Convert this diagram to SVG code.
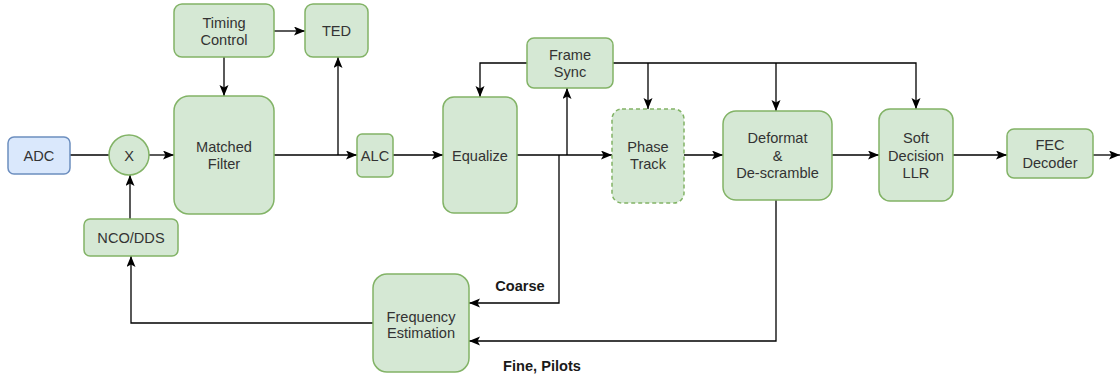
<svg xmlns="http://www.w3.org/2000/svg" width="1120" height="381" viewBox="0 0 1120 381">
<style>
.n{fill:#d5e8d4;stroke:#82b366;stroke-width:1.5}
.b{fill:#dae8fc;stroke:#6c8ebf;stroke-width:1.5}
.d{stroke-dasharray:4 3}
text{font-family:"Liberation Sans",Arial,sans-serif;font-size:14.6px;fill:#333333;text-anchor:middle;dominant-baseline:central}
.lb{font-weight:bold;fill:#1a1a1a}
.c{fill:none;stroke:#000000;stroke-width:1.3}
.a{marker-end:url(#ar)}
</style>
<defs>
<marker id="ar" markerUnits="userSpaceOnUse" markerWidth="12" markerHeight="10" refX="11" refY="4.5" orient="auto">
<path d="M0,0 L11,4.5 L0,9 L2.5,4.5 z" fill="#000000"/>
</marker>
</defs>
<rect width="1120" height="381" fill="#ffffff"/>
<g id="connectors">
<path class="c" d="M70,155 H109"/>
<path class="c a" d="M149,155 H174"/>
<path class="c a" d="M130,219 V175"/>
<path class="c a" d="M224,57 V96"/>
<path class="c a" d="M274,31 H305"/>
<path class="c a" d="M274,155 H357"/>
<path class="c a" d="M338,155 V57"/>
<path class="c a" d="M393,155 H443"/>
<path class="c a" d="M517,155 H612"/>
<path class="c a" d="M567,155 V88"/>
<path class="c a" d="M559,155 V303 H469"/>
<path class="c a" d="M527,63 H480 V97"/>
<path class="c a" d="M613,63 H916 V109"/>
<path class="c a" d="M648,63 V109"/>
<path class="c a" d="M776,63 V111"/>
<path class="c a" d="M684,155 H723"/>
<path class="c a" d="M832,155 H879"/>
<path class="c a" d="M953,155 H1007"/>
<path class="c a" d="M1093,155 H1120"/>
<path class="c a" d="M776,200 V341 H469"/>
<path class="c a" d="M373,323 H131 V256"/>
</g>
<g id="adc"><rect class="b" x="8" y="137" width="62" height="37" rx="6"/><text x="39" y="155.5">ADC</text></g>
<g id="mixer"><circle class="n" cx="129" cy="155" r="20"/><text x="129" y="155.5">X</text></g>
<g id="nco"><rect class="n" x="84" y="219" width="94" height="37" rx="6"/><text x="131" y="237.5">NCO/DDS</text></g>
<g id="timing"><rect class="n" x="174" y="4" width="100" height="53" rx="8"/><text x="224" y="22.5">Timing</text><text x="224" y="39.5">Control</text></g>
<g id="ted"><rect class="n" x="305" y="4" width="63" height="53" rx="8"/><text x="336.5" y="31">TED</text></g>
<g id="matched"><rect class="n" x="174" y="96" width="100" height="118" rx="15"/><text x="224" y="147">Matched</text><text x="224" y="164">Filter</text></g>
<g id="alc"><rect class="n" x="357" y="134" width="36" height="43" rx="5"/><text x="375" y="155.5">ALC</text></g>
<g id="equalize"><rect class="n" x="443" y="97" width="74" height="116" rx="11"/><text x="480" y="155.5">Equalize</text></g>
<g id="framesync"><rect class="n" x="527" y="38" width="86" height="50" rx="7"/><text x="570" y="55">Frame</text><text x="570" y="72">Sync</text></g>
<g id="phasetrack"><rect class="n d" x="612" y="109" width="72" height="94" rx="10"/><text x="648" y="147">Phase</text><text x="648" y="164">Track</text></g>
<g id="deformat"><rect class="n" x="723" y="111" width="109" height="89" rx="13"/><text x="777.5" y="138">Deformat</text><text x="777.5" y="155.5">&amp;</text><text x="777.5" y="173">De-scramble</text></g>
<g id="soft"><rect class="n" x="879" y="109" width="74" height="92" rx="11"/><text x="916" y="138">Soft</text><text x="916" y="155.5">Decision</text><text x="916" y="173">LLR</text></g>
<g id="fec"><rect class="n" x="1007" y="129" width="86" height="49" rx="7"/><text x="1050" y="144.5">FEC</text><text x="1050" y="162.5">Decoder</text></g>
<g id="freqest"><rect class="n" x="373" y="274" width="96" height="98" rx="14"/><text x="421" y="316.5">Frequency</text><text x="421" y="333">Estimation</text></g>
<g id="labels"><text class="lb" x="520" y="286">Coarse</text><text class="lb" x="542" y="366">Fine, Pilots</text></g>
</svg>
